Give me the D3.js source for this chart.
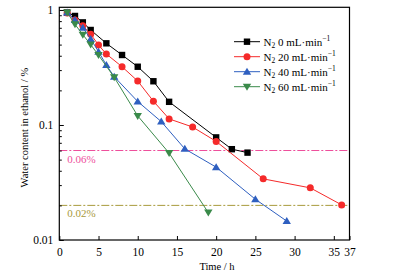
<!DOCTYPE html>
<html>
<head>
<meta charset="utf-8">
<script src="https://cdn.jsdelivr.net/npm/d3@7"></script>
<style>
  body { margin: 0; background: #fff; }
  text { font-family: "Liberation Serif", "DejaVu Serif", serif; }
</style>
</head>
<body>
<div id="chart"></div>
<script>
// water content vs time
const seriesNames = ["0", "20", "40", "60"];
const colors = ["#000000", "#f52a2a", "#2e5fc0", "#3a8a4a"];
const shapes = ["square", "circle", "triangle", "down"];

const t0 = [1, 2, 3, 4, 6, 8, 10, 12, 14, 20, 22, 24];
const v0 = [0.95, 0.887, 0.78, 0.67, 0.513, 0.406, 0.321, 0.24, 0.159, 0.078, 0.0616, 0.0575];

const t20 = [1, 2, 3, 4, 5, 6, 8, 10, 12, 14, 17, 20, 26, 32, 36];
const v20 = [0.94, 0.82, 0.73, 0.615, 0.496, 0.414, 0.321, 0.241, 0.161, 0.113, 0.096, 0.072, 0.034, 0.0284, 0.0202];

const t40 = [1, 2, 3, 4, 5, 6, 7, 10, 13, 16, 20, 25, 29];
const v40 = [0.95, 0.82, 0.70, 0.56, 0.434, 0.332, 0.263, 0.16, 0.107, 0.062, 0.043, 0.0226, 0.0146];

const t60 = [1, 2, 3, 4, 5, 7, 10, 14, 19];
const v60 = [0.95, 0.75, 0.61, 0.5, 0.405, 0.26, 0.12, 0.057, 0.0173];

const xTicks = [0, 5, 10, 15, 20, 25, 30, 35, 37];
const yTicks = [0.01, 0.1, 1];
const yTickLabels = ["0.01", "0.1", "1"];
const limits = [0.06, 0.02];
const limitLabels = ["0.06%", "0.02%"];
const limitColors = ["#ee4f9c", "#a89a3c"];

const width = 393, height = 277;
const mLeft = 59.3, mRight = 349.5, mTop = 7.3, mBottom = 240;

const svg = d3.select("#chart").append("svg")
  .attr("width", width).attr("height", height);

const x = d3.scaleLinear().domain([0, 37]).range([mLeft, mRight]);
const y = d3.scaleLog().domain([0.01, 1.055]).range([mBottom, mTop]);

// reference lines
limits.forEach((v, i) => {
  svg.append("line")
    .attr("x1", mLeft).attr("x2", mRight)
    .attr("y1", y(v)).attr("y2", y(v))
    .attr("stroke", limitColors[i]).attr("stroke-width", 1)
    .attr("stroke-dasharray", "8,2,2,2");
  svg.append("text")
    .attr("x", mLeft + 8).attr("y", y(v) + 12)
    .attr("font-size", 11).attr("fill", limitColors[i])
    .text(limitLabels[i]);
});

const series = [
  { t: t0, v: v0 }, { t: t20, v: v20 }, { t: t40, v: v40 }, { t: t60, v: v60 }
];

const line = d3.line().x(d => x(d[0])).y(d => y(d[1]));

function marker(g, shape, cx, cy, col) {
  if (shape === "square") {
    g.append("rect").attr("x", cx - 3.2).attr("y", cy - 3.2)
      .attr("width", 6.4).attr("height", 6.4).attr("fill", col);
  } else if (shape === "circle") {
    g.append("circle").attr("cx", cx).attr("cy", cy).attr("r", 3.5).attr("fill", col);
  } else if (shape === "triangle") {
    g.append("path").attr("d", `M${cx},${cy - 4}L${cx + 4.2},${cy + 3}L${cx - 4.2},${cy + 3}Z`).attr("fill", col);
  } else {
    g.append("path").attr("d", `M${cx},${cy + 4}L${cx + 4.2},${cy - 3}L${cx - 4.2},${cy - 3}Z`).attr("fill", col);
  }
}

series.forEach((s, i) => {
  const pts = s.t.map((t, j) => [t, s.v[j]]);
  svg.append("path").datum(pts)
    .attr("d", line).attr("fill", "none")
    .attr("stroke", colors[i]).attr("stroke-width", 1);
  const g = svg.append("g");
  pts.forEach(p => marker(g, shapes[i], x(p[0]), y(p[1]), colors[i]));
});

// frame
svg.append("rect")
  .attr("x", mLeft).attr("y", mTop)
  .attr("width", mRight - mLeft).attr("height", mBottom - mTop)
  .attr("fill", "none").attr("stroke", "#000").attr("stroke-width", 1.2);

// x axis
const xAxis = svg.append("g").attr("transform", `translate(0,${mBottom})`)
  .call(d3.axisBottom(x).tickValues(xTicks).tickSize(-4).tickPadding(8).tickFormat(d3.format("d")));
xAxis.select(".domain").remove();
xAxis.selectAll("text").attr("font-size", 11.5).attr("font-family", "Liberation Serif");

// y axis
const minor = [];
[0.01, 0.1].forEach(b => { for (let k = 2; k <= 9; k++) minor.push(b * k); });
const yMinor = svg.append("g").attr("transform", `translate(${mLeft},0)`)
  .call(d3.axisLeft(y).tickValues(minor).tickSize(-2.5).tickFormat(""));
yMinor.select(".domain").remove();
const yAxis = svg.append("g").attr("transform", `translate(${mLeft},0)`)
  .call(d3.axisLeft(y).tickValues(yTicks).tickSize(-4.5).tickPadding(6)
    .tickFormat((d, i) => yTickLabels[i]));
yAxis.select(".domain").remove();
yAxis.selectAll("text").attr("font-size", 11.5).attr("font-family", "Liberation Serif");

// axis titles
svg.append("text")
  .attr("transform", `translate(26,${(mTop + mBottom) / 2 + 4}) rotate(-90)`)
  .attr("text-anchor", "middle").attr("dominant-baseline", "middle")
  .attr("font-size", 10.5).text("Water content in ethanol / %");
svg.append("text")
  .attr("x", 217).attr("y", 270)
  .attr("text-anchor", "middle").attr("font-size", 10.5).text("Time / h");

// legend
const legend = svg.append("g");
seriesNames.forEach((n, i) => {
  const ly = 41.7 + i * 15;
  legend.append("line").attr("x1", 234).attr("x2", 260)
    .attr("y1", ly).attr("y2", ly).attr("stroke", colors[i]).attr("stroke-width", 1);
  marker(legend, shapes[i], 247, ly, colors[i]);
  const tx = legend.append("text").attr("x", 263.5).attr("y", ly + 3.8).attr("font-size", 11);
  tx.append("tspan").text("N");
  tx.append("tspan").attr("font-size", 7.5).attr("dy", 2.5).text("2");
  tx.append("tspan").attr("dy", -2.5).text(" " + n + " mL\u00b7min");
  tx.append("tspan").attr("font-size", 7.5).attr("dy", -4.5).text("\u22121");
});
</script>
</body>
</html>
